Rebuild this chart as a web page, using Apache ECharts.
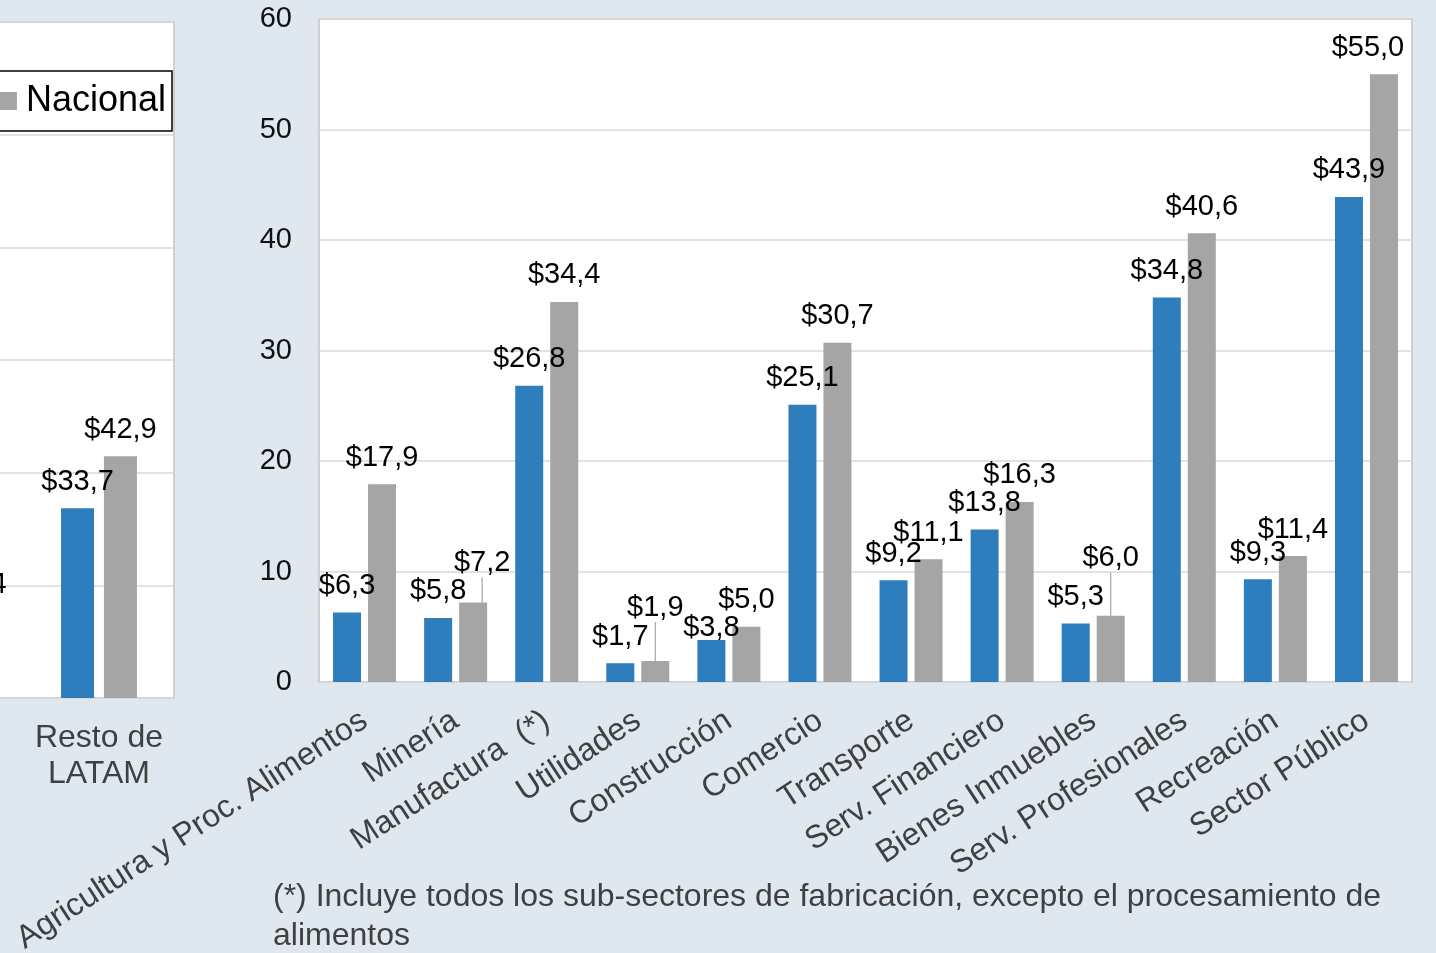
<!DOCTYPE html>
<html>
<head>
<meta charset="utf-8">
<style>
  html, body { margin: 0; padding: 0; background: #E0E8EF; }
  #chart { width: 1436px; height: 953px; }
</style>
<script src="https://cdn.jsdelivr.net/npm/echarts@6/dist/echarts.min.js"></script>
</head>
<body>
<div id="chart"></div>
<script>
// left panel (cropped): regions
var regions = ['Chile', 'Resto de\nLATAM'];
var regionLocal = [12.0, 33.7];      // first one is off the picture
var regionNational = [15.4, 42.9];

// main panel: sectors
var sectors = ['Agricultura y Proc. Alimentos', 'Minería', 'Manufactura  (*)', 'Utilidades',
    'Construcción', 'Comercio', 'Transporte', 'Serv. Financiero', 'Bienes Inmuebles',
    'Serv. Profesionales', 'Recreación', 'Sector Público'];
var sectorLocal = [6.3, 5.8, 26.8, 1.7, 3.8, 25.1, 9.2, 13.8, 5.3, 34.8, 9.3, 43.9];
var sectorNational = [17.9, 7.2, 34.4, 1.9, 5.0, 30.7, 11.1, 16.3, 6.0, 40.6, 11.4, 55.0];

var seriesNames = ['Regional', 'Nacional'];
var footnote = '(*) Incluye todos los sub-sectores de fabricación, excepto el procesamiento de\nalimentos';

var BLUE = '#2E7DBD', GRAY = '#A5A5A5';
var FONT = '"Liberation Sans", Arial, sans-serif';

// labels moved by hand in the original, [dx, dy], and which get a leader line
var labelShift = {
    2: { 4: [0, 14] },
    3: { 1: [9, -13], 3: [0, -27], 8: [0, -31], 11: [-16, 0] }
};
var leaderLines = { 3: [1, 3, 8] };

var money = function (p) {
    return '$' + p.value.toFixed(1).replace('.', ',');
};

var withLines = function (values, seriesIndex) {
    var lines = leaderLines[seriesIndex] || [];
    return values.map(function (v, i) {
        return lines.indexOf(i) >= 0 ? { value: v, labelLine: { show: true } } : v;
    });
};

var barLabel = {
    show: true,
    position: 'top',
    distance: 12,
    color: '#000',
    fontSize: 29,
    fontFamily: FONT,
    formatter: money
};

var myChart = echarts.init(document.getElementById('chart'));
var option = {
    backgroundColor: '#E0E8EF',
    animation: false,
    textStyle: { fontFamily: FONT },
    legend: {
        data: seriesNames,
        orient: 'horizontal',
        right: 1264,
        width: 900,
        top: 71,
        padding: [12, 6, 12, 12],
        backgroundColor: '#fff',
        borderColor: '#000',
        borderWidth: 1.5,
        icon: 'rect',
        itemWidth: 18,
        itemHeight: 18,
        itemGap: 20,
        textStyle: { fontSize: 36, color: '#000', fontFamily: FONT, padding: [0, 0, 0, 4] }
    },
    grid: [
        { left: -126, top: 22, width: 300, height: 676, show: true, backgroundColor: '#fff',
          borderColor: '#CFCFCF', borderWidth: 2, outerBoundsMode: 'none' },
        { left: 319, top: 19, width: 1093, height: 663, show: true, backgroundColor: '#fff',
          borderColor: '#CFCFCF', borderWidth: 2, outerBoundsMode: 'none' }
    ],
    xAxis: [
        {
            gridIndex: 0, type: 'category', data: regions,
            axisLine: { show: false }, axisTick: { show: false },
            axisLabel: { interval: 0, fontSize: 32, lineHeight: 36, color: '#404040', margin: 22 }
        },
        {
            gridIndex: 1, type: 'category', data: sectors,
            axisLine: { show: false }, axisTick: { show: false },
            axisLabel: { interval: 0, rotate: 33, fontSize: 32, color: '#404040', margin: 36 }
        }
    ],
    yAxis: [
        {
            gridIndex: 0, type: 'value', min: 0, max: 120, interval: 20,
            axisLine: { show: false }, axisTick: { show: false },
            axisLabel: { show: false },
            splitLine: { lineStyle: { color: '#D9D9D9', width: 1.5 } }
        },
        {
            gridIndex: 1, type: 'value', min: 0, max: 60, interval: 10,
            axisLine: { show: false }, axisTick: { show: false },
            axisLabel: { fontSize: 29, color: '#111', margin: 27 },
            splitLine: { lineStyle: { color: '#D9D9D9', width: 1.5 } }
        }
    ],
    series: [
        {
            name: seriesNames[0], type: 'bar', xAxisIndex: 0, yAxisIndex: 0,
            barWidth: 33, barGap: '30%', data: regionLocal,
            itemStyle: { color: BLUE }, label: barLabel
        },
        {
            name: seriesNames[1], type: 'bar', xAxisIndex: 0, yAxisIndex: 0,
            barWidth: 33, barGap: '30%', data: regionNational,
            itemStyle: { color: GRAY }, label: barLabel
        },
        {
            name: seriesNames[0], type: 'bar', xAxisIndex: 1, yAxisIndex: 1,
            barWidth: 28, barGap: '25%', data: withLines(sectorLocal, 2),
            itemStyle: { color: BLUE }, label: barLabel
        },
        {
            name: seriesNames[1], type: 'bar', xAxisIndex: 1, yAxisIndex: 1,
            barWidth: 28, barGap: '25%', data: withLines(sectorNational, 3),
            itemStyle: { color: GRAY }, label: barLabel,
            labelLine: { lineStyle: { color: '#A6A6A6', width: 1.2 } }
        }
    ],
    labelLayout: function (params) {
        var s = labelShift[params.seriesIndex] && labelShift[params.seriesIndex][params.dataIndex];
        return s ? { dx: s[0], dy: s[1] } : {};
    },
    graphic: [{
        type: 'text',
        left: 273,
        top: 878,
        style: { text: footnote, font: '32px ' + FONT, lineHeight: 39, fill: '#404040' }
    }]
};
myChart.setOption(option);
</script>
</body>
</html>
